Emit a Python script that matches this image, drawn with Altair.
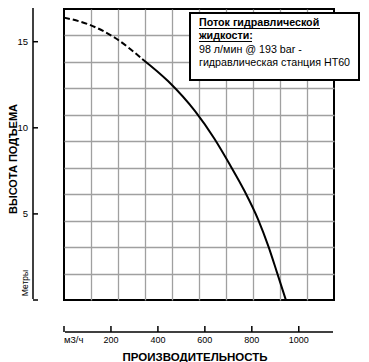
import altair as alt
import pandas as pd

# ---- data ----
flow_dash = [0, 106, 220, 333]
head_dash = [16.4, 16.0, 15.2, 14.0]
flow_solid = [333, 444, 559, 640, 706, 770, 827, 871, 906, 945]
head_solid = [14.0, 12.7, 10.95, 9.38, 7.87, 6.3, 4.67, 3.1, 1.65, 0.0]
y_ticks = [0, 5, 10, 15]
y_labels = [5, 10, 15]
x_ticks = [0, 200, 400, 600, 800, 1000]
x_tick_labels = ["м3/ч", "200", "400", "600", "800", "1000"]
grid_cols = [1, 2, 3, 4, 5, 6, 7, 8, 9]
grid_rows = [1, 2, 3, 4, 5, 6, 7, 8, 9, 10]
box_lines = ["Поток гидравлической", "жидкости:",
             "98 л/мин @ 193 bar -", "гидравлическая станция HT60"]
y_title = "ВЫСОТА ПОДЪЕМА"
y_unit = "Метры"
x_title = "ПРОИЗВОДИТЕЛЬНОСТЬ"

FONT = "Liberation Sans"
W, H = 270, 291

xs = alt.Scale(domain=[0, 1150], nice=False, zero=False)
ys = alt.Scale(domain=[0, 16.9], nice=False, zero=False)
one = pd.DataFrame({"a": [0]})

# ---- background grid (its own 10 x 11 scale) ----
grid_df = pd.DataFrame({"gx": [0, 10], "gy": [0, 11]})
grid = alt.Chart(grid_df).mark_point(opacity=0).encode(
    x=alt.X("gx:Q", scale=alt.Scale(domain=[0, 10], nice=False),
            axis=alt.Axis(orient="top", values=grid_cols, grid=True, gridColor="#a0a0a0",
                          gridWidth=1.3, ticks=False, labels=False, domain=False, title=None)),
    y=alt.Y("gy:Q", scale=alt.Scale(domain=[0, 11], nice=False),
            axis=alt.Axis(orient="right", values=grid_rows, grid=True, gridColor="#a0a0a0",
                          gridWidth=1.3, ticks=False, labels=False, domain=False, title=None)),
)

# ---- curve ----
dash_df = pd.DataFrame({"q": flow_dash, "h": head_dash})
solid_df = pd.DataFrame({"q": flow_solid, "h": head_solid})

dashed = alt.Chart(dash_df).mark_line(color="black", strokeWidth=2, strokeDash=[6, 3],
                                      interpolate="monotone").encode(
    x=alt.X("q:Q", scale=xs, axis=None),
    y=alt.Y("h:Q", scale=ys, axis=None),
)
solid = alt.Chart(solid_df).mark_line(color="black", strokeWidth=2,
                                      interpolate="monotone").encode(
    x=alt.X("q:Q", scale=xs, axis=None),
    y=alt.Y("h:Q", scale=ys, axis=None),
)

# ---- detached axes drawn by hand ----
y_dom = alt.Chart(one).mark_rule(color="black", strokeWidth=1.5).encode(
    x=alt.value(-31), y=alt.value(-3), y2=alt.value(H - 1))
x_dom = alt.Chart(one).mark_rule(color="black", strokeWidth=1.5).encode(
    x=alt.value(1), x2=alt.value(W - 1), y=alt.value(H + 32))
ytick = alt.Chart(pd.DataFrame({"h": y_ticks})).mark_rule(color="black", strokeWidth=1.5).encode(
    y=alt.Y("h:Q", scale=ys, axis=None), x=alt.value(-31), x2=alt.value(-26))
xtick = alt.Chart(pd.DataFrame({"q": x_ticks})).mark_rule(color="black", strokeWidth=1.5).encode(
    x=alt.X("q:Q", scale=xs, axis=None), y=alt.value(H + 26), y2=alt.value(H + 32))
ylab = alt.Chart(pd.DataFrame({"h": y_labels, "t": [str(v) for v in y_labels]})).mark_text(
    font=FONT, fontSize=9.5, align="right", baseline="middle", color="black").encode(
    y=alt.Y("h:Q", scale=ys, axis=None), x=alt.value(-36), text="t:N")
xlab_df = pd.DataFrame({"q": x_ticks[1:], "t": x_tick_labels[1:]})
xlab = alt.Chart(xlab_df).mark_text(
    font=FONT, fontSize=9, align="center", baseline="middle", color="black").encode(
    x=alt.X("q:Q", scale=xs, axis=None), y=alt.value(H + 40), text="t:N")
xlab0 = alt.Chart(pd.DataFrame({"q": x_ticks[:1], "t": x_tick_labels[:1]})).mark_text(
    font=FONT, fontSize=9.5, align="left", baseline="middle", color="black").encode(
    x=alt.X("q:Q", scale=xs, axis=None), y=alt.value(H + 40), text="t:N")

# ---- annotation box ----
box = alt.Chart(one).mark_rect(fill="white", stroke="black", strokeWidth=2).encode(
    x=alt.value(126), x2=alt.value(295), y=alt.value(4), y2=alt.value(71))
texts = []
baselines = [17, 30, 43.5, 57]
for i, line in enumerate(box_lines):
    texts.append(alt.Chart(one).mark_text(
        text=line, font=FONT, fontSize=10.7, fontWeight="bold" if i < 2 else "normal",
        align="left", baseline="alphabetic", color="black").encode(
        x=alt.value(135), y=alt.value(baselines[i])))
ul1 = alt.Chart(one).mark_rule(color="black", strokeWidth=1.2).encode(
    x=alt.value(135), x2=alt.value(256), y=alt.value(19.5))
ul2 = alt.Chart(one).mark_rule(color="black", strokeWidth=1.2).encode(
    x=alt.value(135), x2=alt.value(188), y=alt.value(32.5))

# ---- titles ----
t_y = alt.Chart(one).mark_text(text=y_title, font=FONT, fontSize=11, fontWeight="bold",
                               angle=270, align="center", baseline="middle", color="black").encode(
    x=alt.value(-50), y=alt.value(150))
t_unit = alt.Chart(one).mark_text(text=y_unit, font=FONT, fontSize=8.5,
                                  angle=270, align="center", baseline="middle", color="black").encode(
    x=alt.value(-39), y=alt.value(274))
t_x = alt.Chart(one).mark_text(text=x_title, font=FONT, fontSize=11.5, fontWeight="bold",
                               align="center", baseline="middle", color="black").encode(
    x=alt.value(131), y=alt.value(H + 58))

main = alt.layer(dashed, solid, y_dom, x_dom, ytick, xtick, ylab, xlab, xlab0,
                 box, *texts, ul1, ul2, t_y, t_unit, t_x)

chart = alt.layer(grid, main).resolve_scale(
    x="independent", y="independent"
).properties(
    width=W, height=H,
    padding={"left": 56, "top": 1, "right": 27, "bottom": 64},
    autosize=alt.AutoSizeParams(type="none"),
).configure_view(stroke="black", strokeWidth=2)

chart.save("out.html", embed_options={"renderer": "svg", "actions": False})
